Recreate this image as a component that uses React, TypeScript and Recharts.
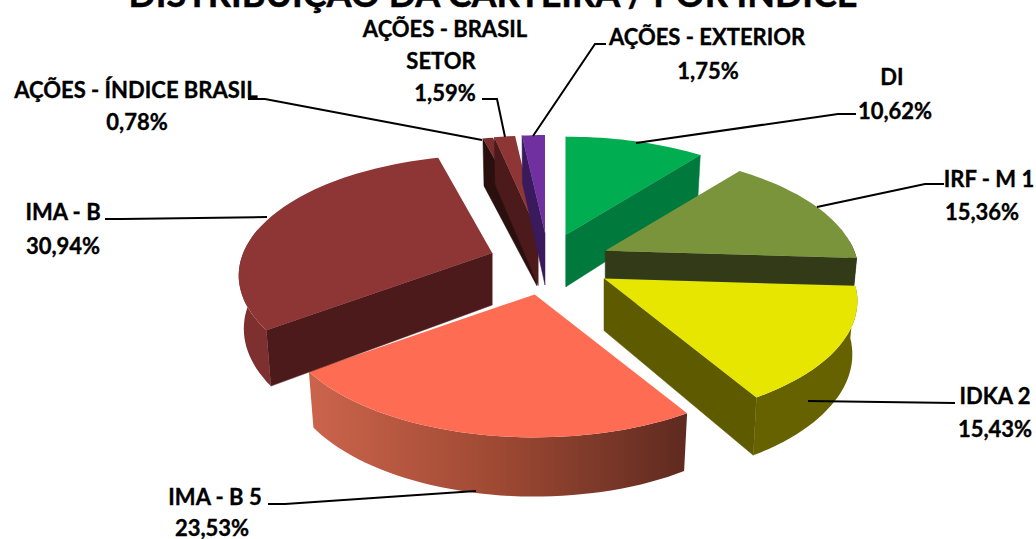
import React from "react";
import { PieChart, Pie } from "recharts";

const categories = ["DI", "IRF - M 1", "IDKA 2", "IMA - B 5", "IMA - B", "AÇÕES - ÍNDICE BRASIL", "AÇÕES - BRASIL SETOR", "AÇÕES - EXTERIOR"];
const values = [10.62, 15.36, 15.43, 23.53, 30.94, 0.78, 1.59, 1.75];
const chartTitle = "DISTRIBUIÇÃO DA CARTEIRA / POR ÍNDICE";

const topColors = ["#00ad50", "#7a943c", "#e6e600", "#fd6c53", "#8e3535", "#7a2f2f", "#8e3535", "#7030a0"];
const wallColors = ["#007a3c", "#333a18", "#5e5a00", "#b5523c", "#4c1a1a", "#2a0f0f", "#4c1a1a", "#3a1a5c"];
const rimColors = ["#007a3c", "#333a18", "#666200", "", "#7e2f2f", "#2a0f0f", "#4c1a1a", "#3a1a5c"];
const explodeX = [64, 66, 69, 52, 56, 35, 43, 0];
const explodeY = [30, 30, 30, 32, 30, 30, 30, 30];

// label layout: text lines (x centre, y centre) and leader polyline
const labelLayout = [
  { lines: [[892, 76]], pct: [895, 110], leader: "636,143 838,114 856,114" },
  { lines: [[989, 178]], pct: [982, 211], leader: "817,207 925,184 944,184" },
  { lines: [[995, 395]], pct: [995, 428], leader: "808,401 955,403" },
  { lines: [[215, 496]], pct: [212, 527], leader: "476,491 285,504 268,504" },
  { lines: [[63, 211]], pct: [63, 245], leader: "267,217 122,219 105,219" },
  { lines: [[136, 89]], pct: [137, 121], leader: "482,140 265,99 248,99" },
  { lines: [[445, 28], [441, 60]], pct: [445, 92], leader: "482,99 497,99 505,137" },
  { lines: [[707, 36]], pct: [708, 70], leader: "533,136 595,44 606,44" },
];
const splitLines: Record<string, string[]> = { "AÇÕES - BRASIL SETOR": ["AÇÕES - BRASIL", "SETOR"] };

const data = categories.map((name, i) => ({ name, value: values[i] }));

const FONT = "Lato, 'Noto Sans', sans-serif";
const PERSPECTIVE = 0.187;
const FLATTEN = 0.467;
const DEPTH = 52;
const rad = (d: number) => (d * Math.PI) / 180;

function Slice3D(props: any) {
  const { cx, cy, outerRadius, startAngle, endAngle, index } = props;
  const a1 = 90 - startAngle;
  const a2 = 90 - endAngle;
  const mid = rad((a1 + a2) / 2);
  const ax = cx + explodeX[index] * Math.sin(mid);
  const ay = cy - explodeY[index] * Math.cos(mid);
  const rx = outerRadius;
  const ry = outerRadius * FLATTEN;
  const vec = (deg: number) => {
    const X = Math.sin(rad(deg));
    const Y = Math.cos(rad(deg));
    const w = 1 + PERSPECTIVE * Y;
    return [(rx * X) / w, (-ry * Y) / w];
  };
  const top = (deg: number) => {
    const [u, v] = vec(deg);
    return [ax + u, ay + v];
  };
  const bot = (deg: number) => {
    const [u, v] = vec(deg);
    return [ax + 0.98 * u, ay + 1.05 * v + DEPTH];
  };
  const pts = (list: number[][]) => list.map((p) => p.map((n) => n.toFixed(1)).join(",")).join(" ");
  const arc = (from: number, to: number) => {
    const out: number[] = [];
    const n = Math.max(2, Math.ceil((to - from) / 2));
    for (let i = 0; i <= n; i++) out.push(from + ((to - from) * i) / n);
    return out;
  };
  const topFace = pts([[ax, ay], ...arc(a1, a2).map(top)]);
  const midV = vec((a1 + a2) / 2);
  const wall = (deg: number) => {
    const [u, v] = vec(deg);
    const interior = u * midV[1] - v * midV[0];
    const down = u * 1;
    // the wall shows when the slice lies above its edge on the picture
    if (interior * down > 0) return null;
    return (
      <polygon
        points={pts([[ax, ay], top(deg), bot(deg), [ax, ay + DEPTH]])}
        fill={wallColors[index]}
        stroke={wallColors[index]}
        strokeWidth={0.5}
      />
    );
  };
  const lo = Math.max(a1, 85);
  const hi = Math.min(a2, 282);
  const gradId = `rim-${index}`;
  return (
    <g>
      {index === 3 && (
        <defs>
          <linearGradient id={gradId} x1="0" x2="1" y1="0" y2="0">
            <stop offset="0" stopColor="#cc644c" />
            <stop offset="0.5" stopColor="#9e4933" />
            <stop offset="1" stopColor="#5f2a20" />
          </linearGradient>
        </defs>
      )}
      {wall(a1)}
      {wall(a2)}
      {hi > lo && (
        <polygon
          points={pts([...arc(lo, hi).map(top), ...arc(lo, hi).reverse().map(bot)])}
          fill={rimColors[index] || `url(#${gradId})`}
        />
      )}
      <polygon points={topFace} fill={topColors[index]} />
    </g>
  );
}

function SliceLabel(props: any) {
  const { index, name, value } = props;
  const layout = labelLayout[index];
  const lines = splitLines[name] || [name];
  const style = { fontFamily: FONT, fontWeight: 700, fontSize: 22, fill: "#000", stroke: "#000", strokeWidth: 0.35 } as const;
  return (
    <g>
      <polyline points={layout.leader} fill="none" stroke="#000" strokeWidth={2} />
      {lines.map((t: string, i: number) => (
        <text key={i} x={layout.lines[i][0]} y={layout.lines[i][1]} textAnchor="middle" dominantBaseline="central" {...style}>
          {t}
        </text>
      ))}
      <text x={layout.pct[0]} y={layout.pct[1]} textAnchor="middle" dominantBaseline="central" {...style}>
        {value.toFixed(2).replace(".", ",") + "%"}
      </text>
    </g>
  );
}

export default function App() {
  return (
    <div style={{ position: "absolute", left: 0, top: 0, width: 1036, height: 539, background: "#fff", overflow: "hidden" }}>
      <PieChart width={1036} height={539} margin={{ top: 0, right: 0, bottom: 0, left: 0 }}>
        <text x={493} y={7} textAnchor="middle" style={{ fontFamily: FONT, fontWeight: 700, fontSize: 36 }} fill="#000" stroke="#000" strokeWidth={0.5}>
          {chartTitle}
        </text>
        <Pie
          data={data}
          dataKey="value"
          nameKey="name"
          cx={545}
          cy={263}
          outerRadius={249}
          startAngle={90}
          endAngle={-270}
          isAnimationActive={false}
          shape={Slice3D}
          activeShape={Slice3D}
          inactiveShape={Slice3D}
          label={SliceLabel}
          labelLine={false}
          stroke="none"
        />
      </PieChart>
    </div>
  );
}
